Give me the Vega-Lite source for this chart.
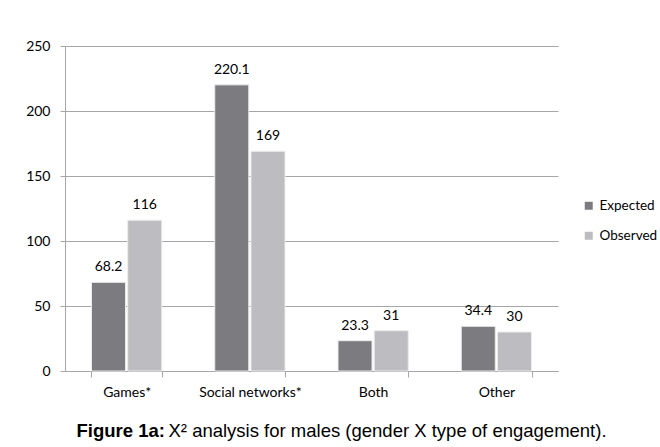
{
  "$schema": "https://vega.github.io/schema/vega-lite/v6.json",
  "width": 493,
  "height": 325,
  "autosize": {"type": "none"},
  "padding": {"left": 65, "top": 46, "right": 102, "bottom": 76},
  "background": "white",
  "config": {
    "view": {"stroke": null},
    "axis": {"labelFont": "Lato", "labelFontSize": 14, "labelColor": "#000000", "domainColor": "#a6a6a6", "tickColor": "#a6a6a6", "gridColor": "#a6a6a6"},
    "legend": {"labelFont": "Lato", "labelFontSize": 13.5, "labelColor": "#000000", "padding": 0}
  },
  "data": {
    "values": [
      {"category": "Games*", "series": "Expected", "value": 68.2, "label": "68.2"},
      {"category": "Games*", "series": "Observed", "value": 116, "label": "116"},
      {"category": "Social networks*", "series": "Expected", "value": 220.1, "label": "220.1"},
      {"category": "Social networks*", "series": "Observed", "value": 169, "label": "169"},
      {"category": "Both", "series": "Expected", "value": 23.3, "label": "23.3"},
      {"category": "Both", "series": "Observed", "value": 31, "label": "31"},
      {"category": "Other", "series": "Expected", "value": 34.4, "label": "34.4"},
      {"category": "Other", "series": "Observed", "value": 30, "label": "30"}
    ]
  },
  "encoding": {
    "x": {
      "field": "category", "type": "nominal",
      "sort": ["Games*", "Social networks*", "Both", "Other"],
      "scale": {"paddingInner": 0.43, "paddingOuter": 0.215},
      "axis": {
        "title": "Figure 1a:", "titleFont": "Liberation Sans", "titleFontSize": 18.5, "titleFontWeight": "bold", "titleColor": "#000000",
        "titleAlign": "left", "titleAnchor": null, "titleX": 11, "titleY": 59, "titleBaseline": "middle", "titleAngle": 0,
        "labelAngle": 0, "tickBand": "extent", "tickSize": 6, "labelPadding": 8, "grid": false
      }
    },
    "xOffset": {"field": "series", "type": "nominal", "scale": {"paddingInner": 0.06, "paddingOuter": 0}},
    "y": {
      "field": "value", "type": "quantitative",
      "scale": {"domain": [0, 250], "nice": false},
      "axis": {
        "values": [0, 50, 100, 150, 200, 250], "grid": true, "tickSize": 5, "labelPadding": 10,
        "title": "X² analysis for males (gender X type of engagement).", "titleFont": "Liberation Sans", "titleFontSize": 18.5, "titleFontWeight": "normal", "titleColor": "#000000",
        "titleAngle": 0, "titleAlign": "left", "titleAnchor": null, "titleX": 103, "titleY": 384, "titleBaseline": "middle"
      }
    }
  },
  "layer": [
    {
      "mark": {"type": "bar", "stroke": "#ececec", "strokeWidth": 1},
      "encoding": {
        "color": {
          "field": "series", "type": "nominal",
          "scale": {"domain": ["Expected", "Observed"], "range": ["#7c7c80", "#bdbdc1"]},
          "legend": {"title": null, "orient": "none", "legendX": 517, "legendY": 153, "symbolType": "square", "symbolSize": 64, "symbolStrokeWidth": 0, "labelOffset": 4, "rowPadding": 15}
        }
      }
    },
    {
      "mark": {"type": "text", "font": "Lato", "fontSize": 14, "color": "#000000", "baseline": "alphabetic", "dy": -11},
      "encoding": {"text": {"field": "label"}}
    }
  ]
}
